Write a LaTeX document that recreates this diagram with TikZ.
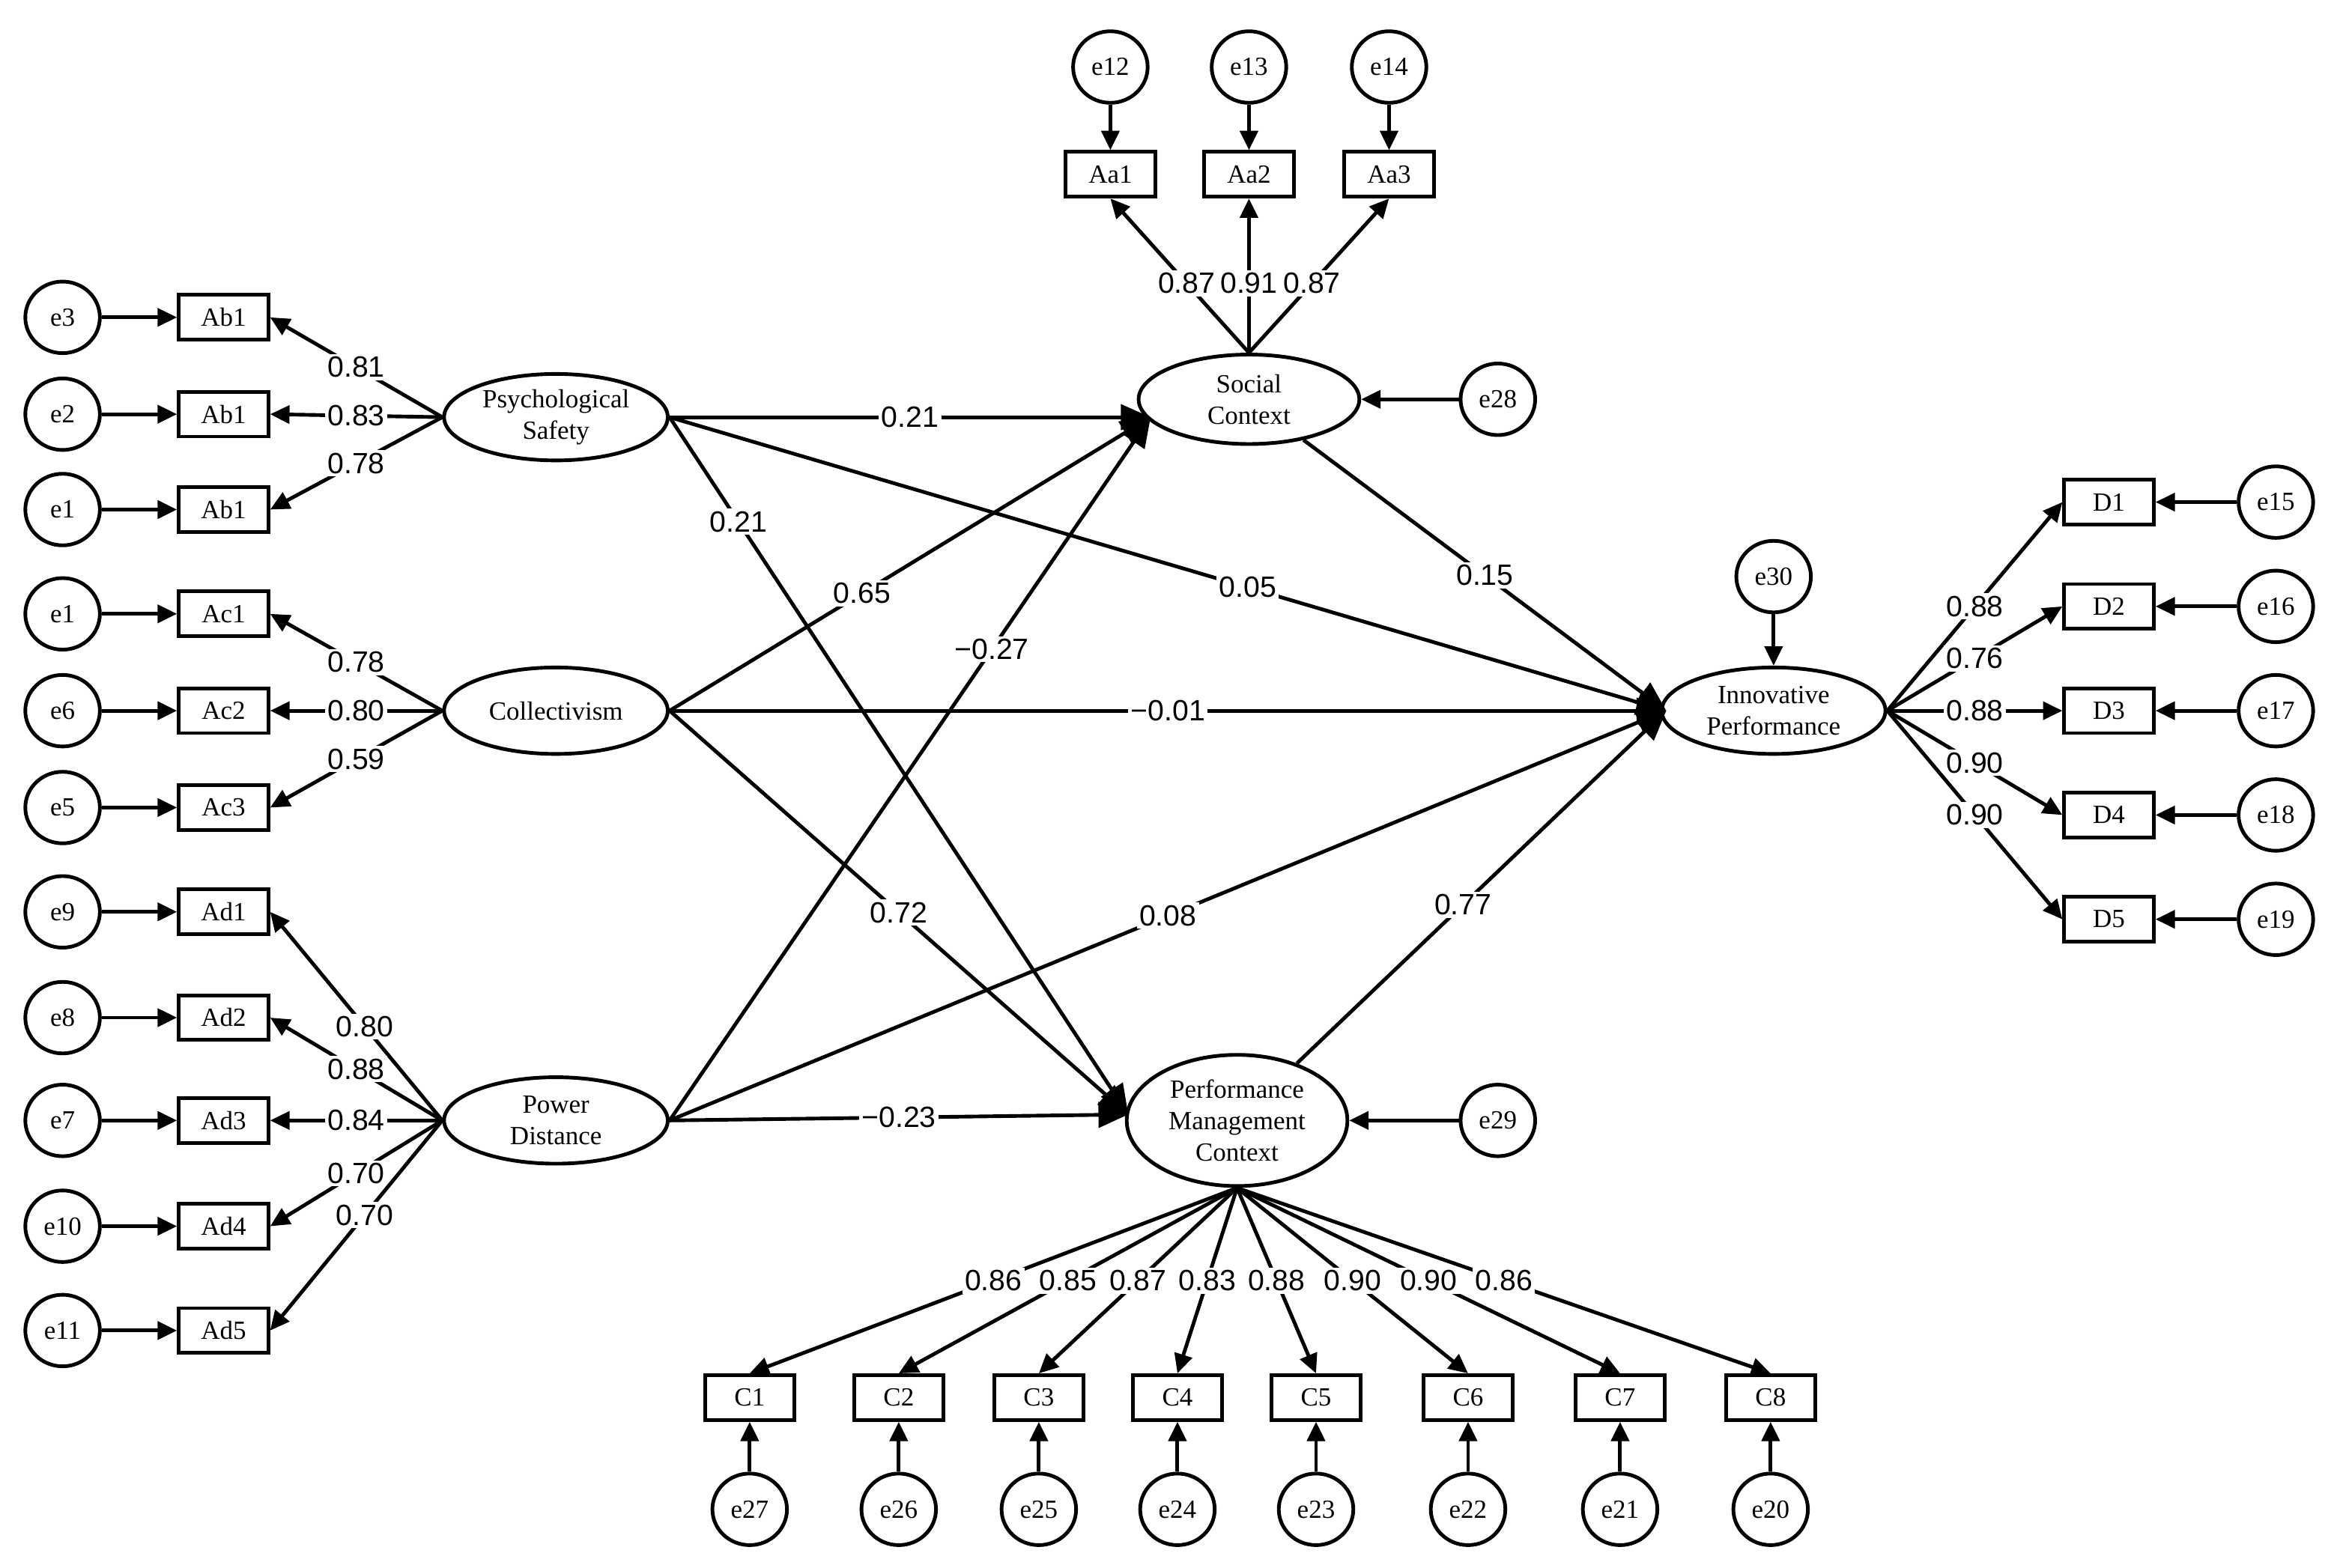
\documentclass[tikz,border=0pt]{standalone}
\usepackage{fontspec}
\setmainfont{Liberation Serif}
\newfontfamily\numfont{Liberation Sans}
\usetikzlibrary{arrows.meta,shapes.geometric}
\begin{document}
\begin{tikzpicture}[x=0.01cm, y=-0.01cm, line width=0.7pt,
    err/.style={draw, ellipse, minimum width=0.5cm, minimum height=0.48cm, inner sep=0pt, font=\fontsize{5}{6}\selectfont},
    obs/.style={draw, rectangle, minimum width=0.6cm, minimum height=0.3cm, inner sep=0pt, font=\fontsize{5}{6}\selectfont},
    lat/.style={draw, ellipse, minimum width=1.5cm, minimum height=0.58cm, inner sep=0pt, align=center, font=\fontsize{5}{6}\selectfont},
    ld/.style={-{Triangle[length=0.13cm,width=0.12cm]}},
    path/.style={-{Triangle[length=0.2cm,width=0.17cm]}},
    coef/.style={fill=white, inner sep=0.5pt, font=\numfont\fontsize{5.6}{6}\selectfont}
  ]
  \useasboundingbox (0,0) rectangle (1568,1052);
  % latent variables
  \node[lat] (ps) at (373,280) {Psychological\\Safety};
  \node[lat] (col) at (373,477) {Collectivism};
  \node[lat] (pd) at (373,752) {Power\\Distance};
  \node[lat, minimum width=1.48cm, minimum height=0.6cm] (sc) at (838,268) {Social\\Context};
  \node[lat] (ip) at (1190,477) {Innovative\\Performance};
  \node[lat, minimum width=1.48cm, minimum height=0.88cm] (pmc) at (830,752) {Performance\\Management\\Context};

  % psychological safety
  \node[obs] (ab1) at (150,213) {Ab1};
  \node[obs] (ab2) at (150,278) {Ab1};
  \node[obs] (ab3) at (150,342) {Ab1};
  \node[err] (e3) at (42,213) {e3};
  \node[err] (e2) at (42,278) {e2};
  \node[err] (e1) at (42,342) {e1};
  \draw[ld] (e3) -- (ab1);
  \draw[ld] (e2) -- (ab2);
  \draw[ld] (e1) -- (ab3);
  \draw[ld] (ps.west) -- node[coef, pos=0.5]{0.81} (ab1.east);
  \draw[ld] (ps.west) -- node[coef, pos=0.5]{0.83} (ab2.east);
  \draw[ld] (ps.west) -- node[coef, pos=0.5]{0.78} (ab3.east);

  % collectivism
  \node[obs] (ac1) at (150,412) {Ac1};
  \node[obs] (ac2) at (150,477) {Ac2};
  \node[obs] (ac3) at (150,542) {Ac3};
  \node[err] (e1b) at (42,412) {e1};
  \node[err] (e6) at (42,477) {e6};
  \node[err] (e5) at (42,542) {e5};
  \draw[ld] (e1b) -- (ac1);
  \draw[ld] (e6) -- (ac2);
  \draw[ld] (e5) -- (ac3);
  \draw[ld] (col.west) -- node[coef, pos=0.5]{0.78} (ac1.east);
  \draw[ld] (col.west) -- node[coef, pos=0.5]{0.80} (ac2.east);
  \draw[ld] (col.west) -- node[coef, pos=0.5]{0.59} (ac3.east);

  % power distance
  \node[obs] (ad1) at (150,612) {Ad1};
  \node[obs] (ad2) at (150,683) {Ad2};
  \node[obs] (ad3) at (150,752) {Ad3};
  \node[obs] (ad4) at (150,823) {Ad4};
  \node[obs] (ad5) at (150,893) {Ad5};
  \node[err] (e9) at (42,612) {e9};
  \node[err] (e8) at (42,683) {e8};
  \node[err] (e7) at (42,752) {e7};
  \node[err] (e10) at (42,823) {e10};
  \node[err] (e11) at (42,893) {e11};
  \draw[ld] (e9) -- (ad1);
  \draw[ld] (e8) -- (ad2);
  \draw[ld] (e7) -- (ad3);
  \draw[ld] (e10) -- (ad4);
  \draw[ld] (e11) -- (ad5);
  \draw[ld] (pd.west) -- node[coef, pos=0.45]{0.80} (ad1.east);
  \draw[ld] (pd.west) -- node[coef, pos=0.5]{0.88} (ad2.east);
  \draw[ld] (pd.west) -- node[coef, pos=0.5]{0.84} (ad3.east);
  \draw[ld] (pd.west) -- node[coef, pos=0.5]{0.70} (ad4.east);
  \draw[ld] (pd.west) -- node[coef, pos=0.45]{0.70} (ad5.east);

  % social context
  \node[obs] (aa1) at (745,117) {Aa1};
  \node[obs] (aa2) at (838,117) {Aa2};
  \node[obs] (aa3) at (932,117) {Aa3};
  \node[err] (e12) at (745,45) {e12};
  \node[err] (e13) at (838,45) {e13};
  \node[err] (e14) at (932,45) {e14};
  \node[err] (e28) at (1005,268) {e28};
  \draw[ld] (e12) -- (aa1);
  \draw[ld] (e13) -- (aa2);
  \draw[ld] (e14) -- (aa3);
  \draw[ld] (e28) -- (sc);
  \draw[ld] (sc.north) -- node[coef, pos=0.45]{0.87} (aa1.south);
  \draw[ld] (sc.north) -- node[coef, pos=0.45]{0.91} (aa2.south);
  \draw[ld] (sc.north) -- node[coef, pos=0.45]{0.87} (aa3.south);

  % innovative performance
  \node[obs] (d1) at (1415,337) {D1};
  \node[obs] (d2) at (1415,407) {D2};
  \node[obs] (d3) at (1415,477) {D3};
  \node[obs] (d4) at (1415,547) {D4};
  \node[obs] (d5) at (1415,617) {D5};
  \node[err] (e15) at (1527,337) {e15};
  \node[err] (e16) at (1527,407) {e16};
  \node[err] (e17) at (1527,477) {e17};
  \node[err] (e18) at (1527,547) {e18};
  \node[err] (e19) at (1527,617) {e19};
  \node[err] (e30) at (1190,387) {e30};
  \draw[ld] (e15) -- (d1);
  \draw[ld] (e16) -- (d2);
  \draw[ld] (e17) -- (d3);
  \draw[ld] (e18) -- (d4);
  \draw[ld] (e19) -- (d5);
  \draw[ld] (e30) -- (ip);
  \draw[ld] (ip.east) -- node[coef, pos=0.5]{0.88} (d1.west);
  \draw[ld] (ip.east) -- node[coef, pos=0.5]{0.76} (d2.west);
  \draw[ld] (ip.east) -- node[coef, pos=0.5]{0.88} (d3.west);
  \draw[ld] (ip.east) -- node[coef, pos=0.5]{0.90} (d4.west);
  \draw[ld] (ip.east) -- node[coef, pos=0.5]{0.90} (d5.west);

  % performance management context
  \node[obs] (c1) at (503,938) {C1};
  \node[obs] (c2) at (603,938) {C2};
  \node[obs] (c3) at (697,938) {C3};
  \node[obs] (c4) at (790,938) {C4};
  \node[obs] (c5) at (883,938) {C5};
  \node[obs] (c6) at (985,938) {C6};
  \node[obs] (c7) at (1087,938) {C7};
  \node[obs] (c8) at (1188,938) {C8};
  \node[err] (e27) at (503,1013) {e27};
  \node[err] (e26) at (603,1013) {e26};
  \node[err] (e25) at (697,1013) {e25};
  \node[err] (e24) at (790,1013) {e24};
  \node[err] (e23) at (883,1013) {e23};
  \node[err] (e22) at (985,1013) {e22};
  \node[err] (e21) at (1087,1013) {e21};
  \node[err] (e20) at (1188,1013) {e20};
  \node[err] (e29) at (1005,752) {e29};
  \draw[ld] (e27) -- (c1);
  \draw[ld] (e26) -- (c2);
  \draw[ld] (e25) -- (c3);
  \draw[ld] (e24) -- (c4);
  \draw[ld] (e23) -- (c5);
  \draw[ld] (e22) -- (c6);
  \draw[ld] (e21) -- (c7);
  \draw[ld] (e20) -- (c8);
  \draw[ld] (e29) -- (pmc);
  \draw[ld] (pmc.south) -- node[coef, pos=0.5]{0.86} (c1.north);
  \draw[ld] (pmc.south) -- node[coef, pos=0.5]{0.85} (c2.north);
  \draw[ld] (pmc.south) -- node[coef, pos=0.5]{0.87} (c3.north);
  \draw[ld] (pmc.south) -- node[coef, pos=0.5]{0.83} (c4.north);
  \draw[ld] (pmc.south) -- node[coef, pos=0.5]{0.88} (c5.north);
  \draw[ld] (pmc.south) -- node[coef, pos=0.5]{0.90} (c6.north);
  \draw[ld] (pmc.south) -- node[coef, pos=0.5]{0.90} (c7.north);
  \draw[ld] (pmc.south) -- node[coef, pos=0.5]{0.86} (c8.north);

  % structural paths
  \coordinate (scin) at (772,280);
  \coordinate (ipin) at (1118,477);
  \coordinate (pmcin) at (757,748);
  \draw[path] (ps.east) -- node[coef, pos=0.5]{0.21} (scin);
  \draw[path] (ps.east) -- node[coef, pos=0.15]{0.21} (pmcin);
  \draw[path] (ps.east) -- node[coef, pos=0.58]{0.05} (ipin);
  \draw[path] (col.east) -- node[coef, pos=0.4]{0.65} (scin);
  \draw[path] (col.east) -- node[coef, pos=0.5]{−0.01} (ipin);
  \draw[path] (col.east) -- node[coef, pos=0.5]{0.72} (pmcin);
  \draw[path] (pd.east) -- node[coef, pos=0.67]{−0.27} (scin);
  \draw[path] (pd.east) -- node[coef, pos=0.5]{0.08} (ipin);
  \draw[path] (pd.east) -- node[coef, pos=0.5]{−0.23} (pmcin);
  \draw[path] (sc) -- node[coef, pos=0.5]{0.15} (ipin);
  \draw[path] (pmc) -- node[coef, pos=0.45]{0.77} (ipin);
\end{tikzpicture}
\end{document}
